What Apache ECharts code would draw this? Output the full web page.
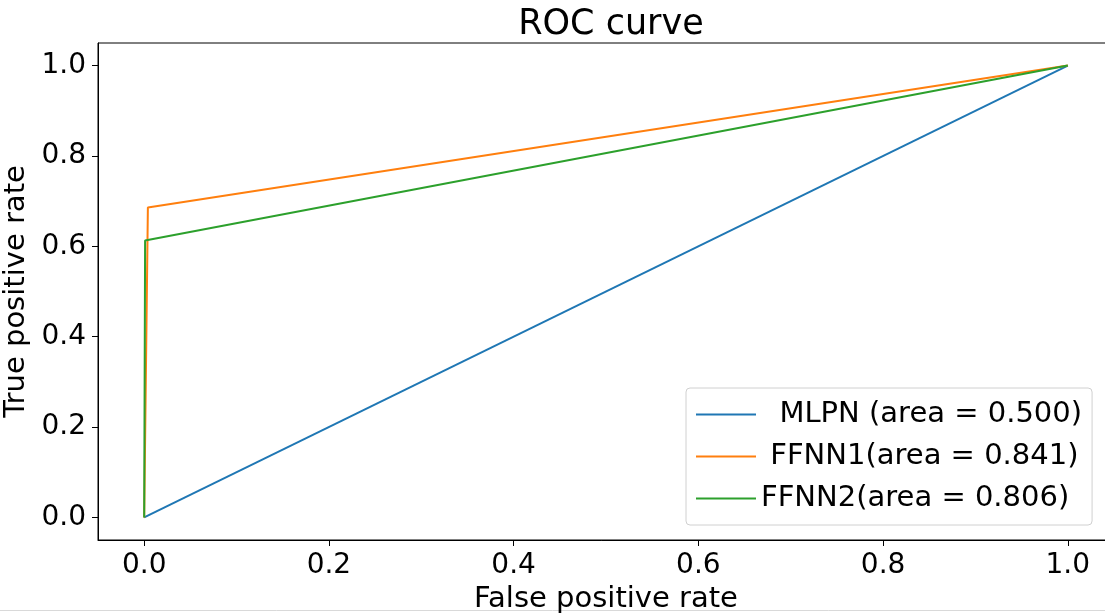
<!DOCTYPE html>
<html>
<head>
<meta charset="utf-8">
<script src="https://cdn.jsdelivr.net/npm/echarts@6/dist/echarts.min.js"></script>
<style>
  html, body { margin: 0; padding: 0; background: #fff; }
  #chart { width: 1105px; height: 614px; }
</style>
</head>
<body>
<div id="chart"></div>
<script>
// ROC points
var mlpnFpr = [0, 1];
var mlpnTpr = [0, 1];
var ffnn1Fpr = [0, 0.004, 1];
var ffnn1Tpr = [0, 0.686, 1];
var ffnn2Fpr = [0, 0.001, 1];
var ffnn2Tpr = [0, 0.613, 1];
var tickValues = [0, 0.2, 0.4, 0.6, 0.8, 1.0];
var seriesNames = ['  MLPN (area = 0.500)', ' FFNN1(area = 0.841)', 'FFNN2(area = 0.806)'];

function pairs(xs, ys) {
	var out = [];
	for (var i = 0; i < xs.length; i++) {
		out.push([xs[i], ys[i]]);
	}
	return out;
}

var font = 'DejaVu Sans';
var chart = echarts.init(document.getElementById('chart'));

var axisCommon = {
	type: 'value',
	min: -0.05,
	max: 1.05,
	splitLine: { show: false },
	axisLine: { show: true, onZero: false, lineStyle: { color: '#000', width: 1 } },
	axisTick: {
		show: true,
		length: 6,
		customValues: tickValues,
		lineStyle: { color: '#000', width: 1 }
	},
	axisLabel: {
		customValues: tickValues,
		color: '#000',
		fontFamily: font,
		fontSize: 28,
		margin: 12,
		formatter: function (v) { return v.toFixed(1); }
	},
	nameLocation: 'middle',
	nameTextStyle: { color: '#000', fontFamily: font, fontSize: 29 }
};

var option = {
	backgroundColor: '#fff',
	animation: false,
	title: {
		text: 'ROC curve',
		left: 606,
		top: 2,
		textAlign: 'center',
		textStyle: { color: '#000', fontFamily: font, fontSize: 35, fontWeight: 'normal' }
	},
	grid: {
		left: 98,
		top: 43,
		width: 1016,
		height: 497,
		show: true,
		borderColor: '#000',
		borderWidth: 1,
		containLabel: false,
		outerBoundsMode: 'none'
	},
	legend: {
		orient: 'vertical',
		left: 686,
		top: 388,
		width: 403,
		padding: [12, 10, 12, 10],
		itemGap: 13,
		itemWidth: 60,
		itemHeight: 2,
		backgroundColor: '#fff',
		borderColor: '#d0d0d0',
		borderWidth: 1,
		borderRadius: 4,
		data: seriesNames.map(function (n) { return { name: n, icon: 'rect' }; }),
		textStyle: { color: '#000', fontFamily: font, fontSize: 29 }
	},
	xAxis: Object.assign({}, axisCommon, {
		name: 'False positive rate',
		nameGap: 39
	}),
	yAxis: Object.assign({}, axisCommon, {
		name: 'True positive rate',
		nameGap: 58
	}),
	series: [
		{
			name: seriesNames[0],
			type: 'line',
			symbol: 'none',
			data: pairs(mlpnFpr, mlpnTpr),
			lineStyle: { color: '#1f77b4', width: 2 },
			itemStyle: { color: '#1f77b4' },
			z: 2
		},
		{
			name: seriesNames[1],
			type: 'line',
			symbol: 'none',
			data: pairs(ffnn1Fpr, ffnn1Tpr),
			lineStyle: { color: '#ff7f0e', width: 2 },
			itemStyle: { color: '#ff7f0e' },
			z: 3
		},
		{
			name: seriesNames[2],
			type: 'line',
			symbol: 'none',
			data: pairs(ffnn2Fpr, ffnn2Tpr),
			lineStyle: { color: '#2ca02c', width: 2 },
			itemStyle: { color: '#2ca02c' },
			z: 4
		}
	],
	graphic: [{
		type: 'line',
		shape: { x1: 0, y1: 610.5, x2: 1105, y2: 610.5 },
		style: { stroke: '#d9d9d9', lineWidth: 1 },
		silent: true
	}]
};

chart.setOption(option);
</script>
</body>
</html>
